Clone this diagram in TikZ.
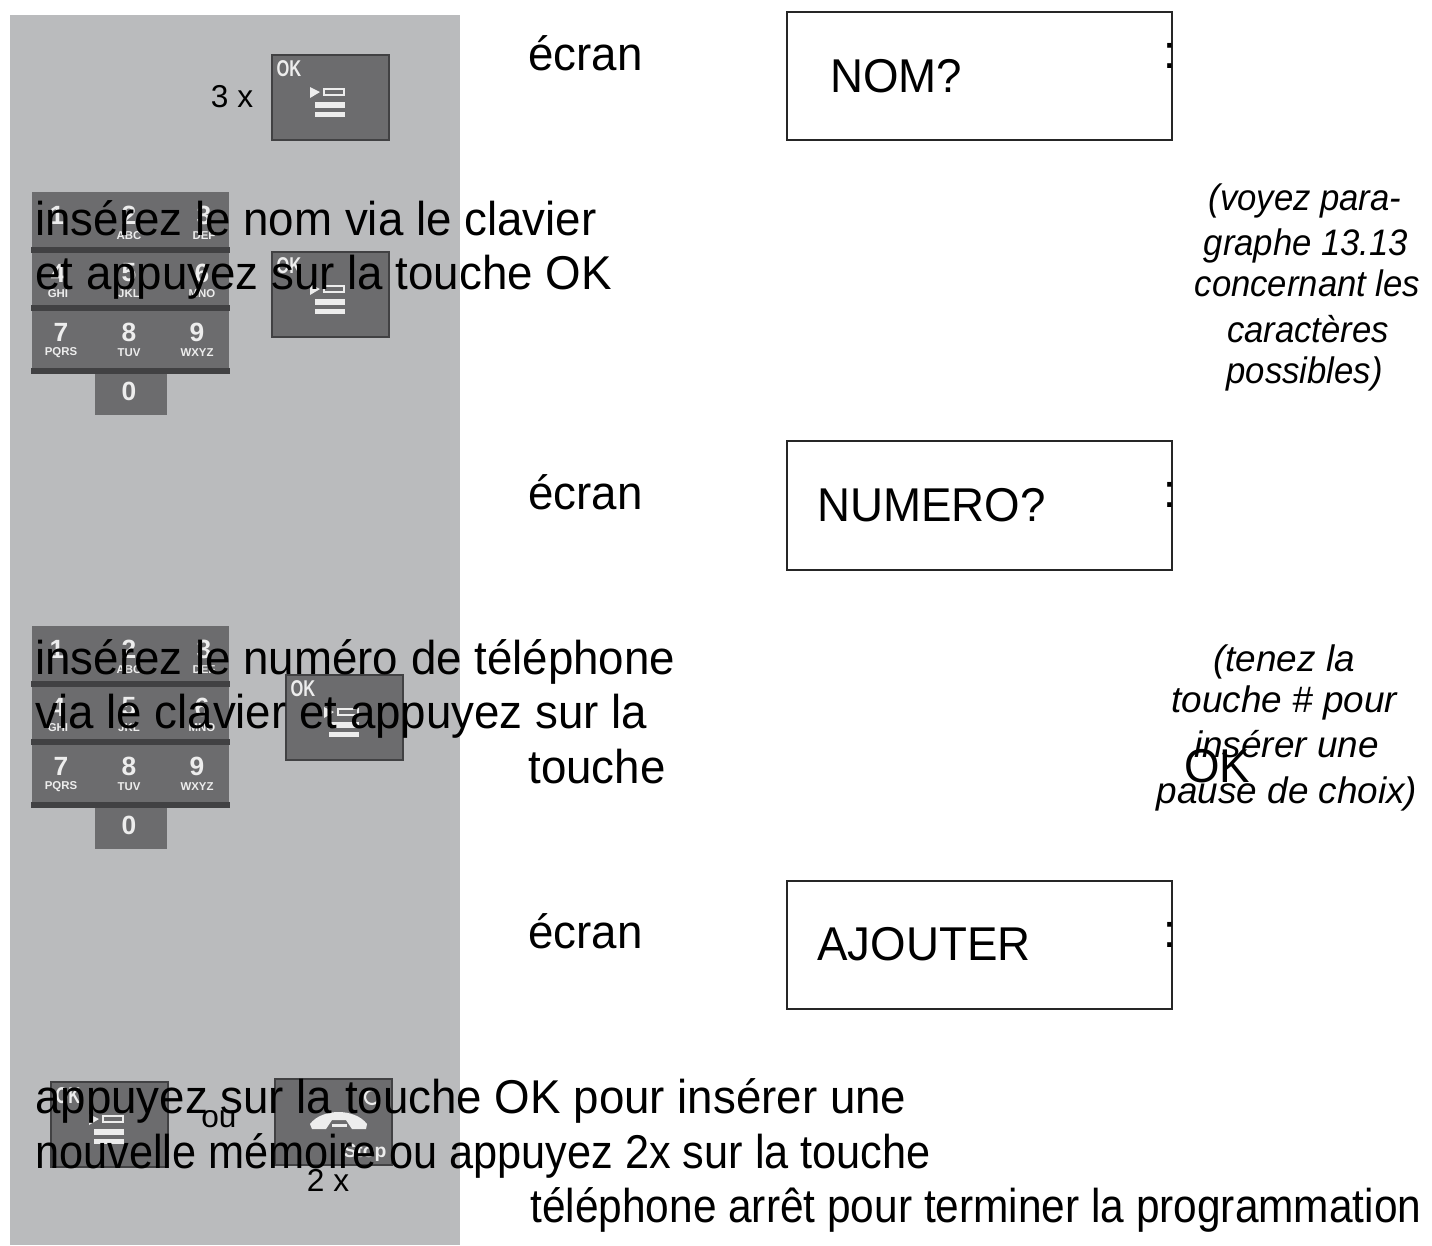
\documentclass[tikz,border=0pt]{standalone}
\usepackage{fontspec}
\setmainfont{Liberation Sans}
\newfontfamily\bodyfont[FakeStretch=0.963]{Liberation Sans}
\newfontfamily\tightfont[FakeStretch=0.913]{Liberation Sans}
\newfontfamily\lastfont[FakeStretch=0.894]{Liberation Sans}
\newfontfamily\notefont[FakeStretch=0.94]{Liberation Sans}
\newfontfamily\okfont[FakeStretch=0.72]{Liberation Sans}
\definecolor{panelgrey}{HTML}{BABBBD}
\definecolor{keygrey}{HTML}{6C6C6E}
\definecolor{keydark}{HTML}{414143}
\definecolor{keylight}{HTML}{EDEDED}

% one key of a telephone keypad row
\newcommand{\padkey}[5]{%
    \node[digit] (#1d) at (#2,#3) {#4};
    \node[subdigit] (#1s) at (#2,#3+21) {#5};
}
% keypad with its top left corner at (#2,#3)
\newcommand{\keypad}[3]{%
    \draw[keyface] (#2,#3) rectangle (#2+197,#3+180);
    \draw[keyface] (#2+63,#3+180) rectangle (#2+135,#3+223);
    \draw[keybar] (#2-1,#3+58) -- (#2+198,#3+58);
    \draw[keybar] (#2-1,#3+116) -- (#2+198,#3+116);
    \draw[keybar] (#2-1,#3+179) -- (#2+198,#3+179);
    \padkey{#1a}{#2+25}{#3+23}{1}{}
    \padkey{#1b}{#2+97}{#3+23}{2}{ABC}
    \padkey{#1c}{#2+172}{#3+23}{3}{DEF}
    \padkey{#1e}{#2+26}{#3+81}{4}{GHI}
    \padkey{#1f}{#2+97}{#3+81}{5}{JKL}
    \padkey{#1g}{#2+170}{#3+81}{6}{MNO}
    \padkey{#1h}{#2+29}{#3+140}{7}{PQRS}
    \padkey{#1i}{#2+97}{#3+140}{8}{TUV}
    \padkey{#1j}{#2+165}{#3+140}{9}{WXYZ}
    \node[digit] (#1k) at (#2+97,#3+199) {0};
}
% OK key with its top left corner at (#2,#3)
\newcommand{\okkey}[3]{%
    \draw[keyface, draw=keydark, line width=0.6pt] (#2,#3) rectangle (#2+117,#3+85);
    \draw[keybar, line width=1.2pt] (#2,#3) -- (#2+117,#3);
    \node[oklabel] (#1) at (#2+17,#3+14) {OK};
    \fill[keylight] (#2+38,#3+32) -- (#2+48,#3+37) -- (#2+38,#3+43) -- cycle;
    \draw[keylight, line width=0.8pt] (#2+52,#3+34) rectangle (#2+72,#3+40);
    \fill[keylight] (#2+43,#3+47) rectangle (#2+73,#3+53);
    \fill[keylight] (#2+43,#3+57) rectangle (#2+73,#3+62);
}

\begin{document}
\begin{tikzpicture}[
        x=0.02cm, y=-0.02cm,
        keyface/.style={fill=keygrey, draw=none},
        keybar/.style={draw=keydark, line width=3pt},
        digit/.style={text=keylight, font=\fontsize{15}{15}\selectfont\bfseries, inner sep=0pt},
        subdigit/.style={text=keylight, font=\fontsize{6.5}{6.5}\selectfont\bfseries, inner sep=0pt},
        oklabel/.style={text=keylight, font=\okfont\fontsize{13}{13}\selectfont\bfseries, inner sep=0pt},
        lcd/.style={draw=black!85, line width=1.2pt, fill=white},
        body/.style={anchor=base west, inner sep=0pt, font=\bodyfont\fontsize{27}{27}\selectfont},
        tight/.style={body, font=\tightfont\fontsize{27}{27}\selectfont},
        last/.style={body, font=\lastfont\fontsize{27}{27}\selectfont},
        small/.style={anchor=base, inner sep=0pt, font=\fontsize{18}{18}\selectfont},
        remark/.style={anchor=base, inner sep=0pt, font=\notefont\fontsize{21}{21}\selectfont\itshape},
        remarkwide/.style={anchor=base, inner sep=0pt, font=\fontsize{21}{21}\selectfont\itshape}
    ]
    \useasboundingbox (0,0) rectangle (1432,1245);
    \fill[white] (0,0) rectangle (1432,1245);
    \fill[panelgrey] (10,15) rectangle (460,1245);

    \okkey{oka}{272}{55}
    \keypad{pa}{32}{192}
    \okkey{okb}{272}{252}
    \keypad{pb}{32}{626}
    \okkey{okc}{286}{675}
    \okkey{okd}{51}{1082}

    % telephone off key
    \draw[keyface, draw=keydark, line width=0.6pt] (275,1079) rectangle (392,1165);
    \draw[keybar, line width=1.2pt] (275,1079) -- (392,1079);
    \draw[keylight, line width=1.2pt] (372,1097) circle (7);
    \fill[keylight] (310,1124) .. controls (322,1108) and (355,1108) .. (367,1124)
        -- (366,1129) -- (352,1129) -- (346,1120) -- (332,1120) -- (326,1129) -- (312,1129) -- cycle;
    \fill[keylight] (332,1124) rectangle (347,1127);
    \node[subdigit, font=\fontsize{11}{11}\selectfont\bfseries] (stop) at (365,1153) {Stop};

    \node[small] (trois) at (232,107) {3 x};
    \node[small] (ou) at (219,1127) {ou};
    \node[small] (deux) at (328,1191) {2 x};

    % left text column
    \node[body] (nomtxt) at (35,235) {insérez le nom via le clavier};
    \node[body] (nomok) at (35,289) {et appuyez sur la touche OK};
    \node[body] (numtxt) at (35,674) {insérez le numéro de téléphone};
    \node[body] (numvia) at (35,728) {via le clavier et appuyez sur la};
    \node[body] (numtouche) at (528,783) {touche};
    \node[body] (numok) at (1184,782) {OK};
    \node[body] (fina) at (35,1113) {appuyez sur la touche OK pour insérer une};
    \node[tight] (finb) at (35,1168) {nouvelle mémoire ou appuyez 2x sur la touche};
    \node[last] (finc) at (530,1222) {téléphone arrêt pour terminer la programmation};

    % screens
    \node[body] (ecrana) at (528,70) {écran};
    \node[body] (ecranb) at (528,509) {écran};
    \node[body] (ecranc) at (528,948) {écran};
    \draw[lcd] (787,12) rectangle (1172,140);
    \draw[lcd] (787,441) rectangle (1172,570);
    \draw[lcd] (787,881) rectangle (1172,1009);
    \node[body] (nom) at (830,92) {NOM?};
    \node[body] (numero) at (817,521) {NUMERO?};
    \node[body] (ajouter) at (817,960) {AJOUTER};
    \node[body] (cola) at (1163,68) {:};
    \node[body] (colb) at (1163,507) {:};
    \node[body] (colc) at (1163,947) {:};

    % remarks
    \node[remark] (ra) at (1305,210) {(voyez para-};
    \node[remark] (rb) at (1306,255) {graphe 13.13};
    \node[remark] (rc) at (1307.5,296) {concernant les};
    \node[remark] (rd) at (1308,342) {caractères};
    \node[remark] (re) at (1304.5,383) {possibles)};
    \node[remarkwide] (rf) at (1284,671) {(tenez la};
    \node[remarkwide] (rg) at (1284.5,712) {touche \# pour};
    \node[remarkwide] (rh) at (1286.5,757) {insérer une};
    \node[remarkwide] (ri) at (1287,803) {pause de choix)};
\end{tikzpicture}
\end{document}
